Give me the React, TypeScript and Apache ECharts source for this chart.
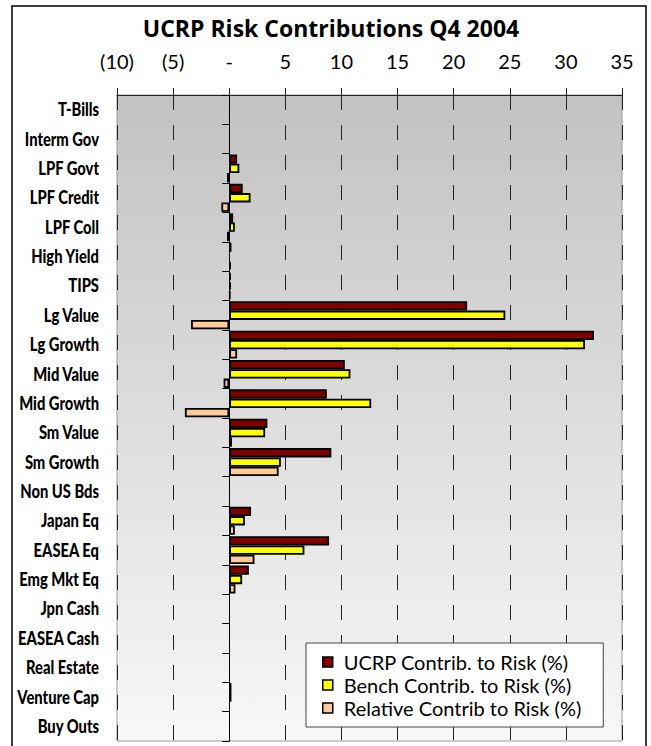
import React, { useEffect, useRef } from "react";
import * as echarts from "echarts";

// Asset classes, top to bottom
const categories = [
  "T-Bills", "Interm Gov", "LPF Govt", "LPF Credit", "LPF Coll", "High Yield", "TIPS",
  "Lg Value", "Lg Growth", "Mid Value", "Mid Growth", "Sm Value", "Sm Growth",
  "Non US Bds", "Japan Eq", "EASEA Eq", "Emg Mkt Eq", "Jpn Cash", "EASEA Cash",
  "Real Estate", "Venture Cap", "Buy Outs",
];

// Contributions to risk (%)
const ucrpContrib = [0, 0, 0.7, 1.2, 0.35, 0.2, 0.15, 21.2, 32.5, 10.3, 8.7, 3.4, 9.1, 0, 1.95, 8.9, 1.75, 0, 0, 0, 0.2, 0];
const benchContrib = [0, 0, 0.9, 1.9, 0.5, 0, 0.15, 24.6, 31.7, 10.8, 12.65, 3.2, 4.6, 0, 1.4, 6.7, 1.15, 0, 0, 0, 0.2, 0];
const relativeContrib = [0, 0, -0.2, -0.7, -0.2, 0.15, 0.1, -3.4, 0.7, -0.5, -3.95, 0.25, 4.4, 0, 0.5, 2.25, 0.55, 0, 0, 0, 0, 0];

const seriesNames = ["UCRP Contrib. to Risk (%)", "Bench Contrib. to Risk (%)", "Relative Contrib to Risk (%)"];
const seriesColors = ["#800000", "#FFFF00", "#FFCC99"];

const xMin = -10;
const xMax = 35;
const xStep = 5;

const formatTick = (v: number) => (v < 0 ? `(${-v})` : v === 0 ? "-" : String(v));

const TEXT_FONT = "Lato, 'Open Sans', sans-serif";
const TITLE_FONT = "'Open Sans', Lato, sans-serif";

const GRID_LEFT = 117;

export default function App() {
  const ref = useRef<HTMLDivElement>(null);

  useEffect(() => {
    if (!ref.current) return;
    const chart = echarts.init(ref.current, null, { renderer: "svg" });

    const values = [ucrpContrib, benchContrib, relativeContrib];
    const series = values.map((arr, i) => ({
      name: seriesNames[i],
      type: "bar",
      yAxisIndex: 0,
      barGap: "0%",
      barCategoryGap: "5%",
      data: arr.map((v) => (v === 0 ? null : v)),
      itemStyle: { color: seriesColors[i], borderColor: "#000", borderWidth: 1.8 },
    }));

    const baseGraphics: any[] = [
      {
        id: "frame",
        type: "rect",
        shape: { x: 12, y: 6, width: 634, height: 770 },
        style: { fill: "none", stroke: "#000", lineWidth: 1.5 },
        silent: true,
      },
      {
        id: "title",
        type: "text",
        x: 331,
        y: 28,
        style: {
          text: "UCRP Risk Contributions Q4 2004",
          font: `bold 23px ${TITLE_FONT}`,
          fill: "#000",
          textAlign: "center",
          textVerticalAlign: "middle",
        },
      },
    ];

    chart.setOption({
      animation: false,
      backgroundColor: "#fff",
      graphic: baseGraphics,
      grid: {
        left: GRID_LEFT,
        right: 29,
        top: 95,
        bottom: 5,
        containLabel: false,
        outerBoundsMode: "none",
        show: true,
        backgroundColor: new echarts.graphic.LinearGradient(0, 0, 0, 1, [
          { offset: 0, color: "#c2c2c2" },
          { offset: 1, color: "#f8f8f8" },
        ]),
        borderColor: "#999",
        borderWidth: 1,
      },
      legend: {
        orient: "vertical",
        left: 306,
        top: 643,
        padding: [9, 22, 9, 16],
        itemGap: 3,
        itemWidth: 10,
        itemHeight: 10,
        icon: "rect",
        backgroundColor: "#fff",
        borderColor: "#444",
        borderWidth: 1,
        data: seriesNames,
        itemStyle: { borderColor: "#000", borderWidth: 1.5 },
        textStyle: { fontFamily: TEXT_FONT, fontSize: 20, color: "#000", padding: [0, 0, 0, 6] },
      },
      xAxis: {
        type: "value",
        position: "top",
        min: xMin,
        max: xMax,
        interval: xStep,
        axisLine: { show: true, lineStyle: { color: "#222", width: 1 } },
        axisTick: { show: true, length: 7, lineStyle: { color: "#222" } },
        axisLabel: {
          formatter: formatTick,
          fontFamily: TEXT_FONT,
          fontSize: 20,
          color: "#000",
          margin: 24,
        },
        splitLine: { show: true, lineStyle: { color: "#222", width: 1, type: [15, 15] } },
      },
      yAxis: [
        {
          type: "category",
          inverse: true,
          data: categories,
          axisLine: { show: false, onZero: false },
          axisTick: { show: false },
          axisLabel: { show: false },
        },
        {
          type: "category",
          inverse: true,
          data: categories,
          position: "left",
          axisLine: { show: true, onZero: true, lineStyle: { color: "#000", width: 1 } },
          axisTick: { show: true, length: 7, lineStyle: { color: "#000" } },
          axisLabel: { show: false },
          splitLine: { show: false },
        },
      ],
      series,
    });

    // Category names in a narrow face, placed at the category axis positions
    const labelGraphics = categories.map((name, i) => {
      const y = chart.convertToPixel({ yAxisIndex: 0 }, name) as number;
      return {
        id: `cat-${i}`,
        type: "text",
        x: GRID_LEFT - 18,
        y,
        scaleX: 0.82,
        style: {
          text: name,
          font: `900 18px ${TEXT_FONT}`,
          fill: "#000",
          textAlign: "right",
          textVerticalAlign: "middle",
        },
      };
    });
    chart.setOption({ graphic: [...baseGraphics, ...labelGraphics] });

    return () => chart.dispose();
  }, []);

  return (
    <div
      ref={ref}
      style={{ position: "absolute", left: 0, top: 0, width: 651, height: 746 }}
    />
  );
}
